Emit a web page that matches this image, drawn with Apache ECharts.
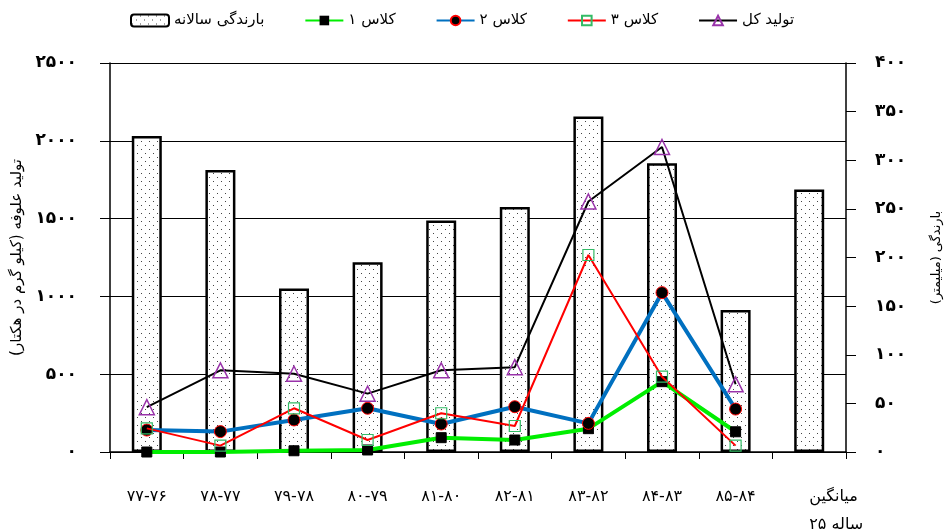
<!DOCTYPE html>
<html><head><meta charset="utf-8">
<script src="https://cdn.jsdelivr.net/npm/echarts@6/dist/echarts.min.js"></script>
<style>html,body{margin:0;padding:0;background:#fff}#c{width:946px;height:532px}</style>
</head><body><div id="c"></div>
<script>
var categories = ['۷۷-۷۶','۷۸-۷۷','۷۹-۷۸','۸۰-۷۹','۸۱-۸۰','۸۲-۸۱','۸۳-۸۲','۸۴-۸۳','۸۵-۸۴','میانگین\n\u200E۲۵ ساله'];
var rainfall = [325, 290, 168, 195, 238, 252, 345, 297, 146, 270];
var class1 = [0, 0, 8, 13, 92, 77, 150, 452, 130, null];
var class2 = [141, 131, 206, 281, 180, 291, 184, 1024, 276, null];
var class3 = [152, 41, 281, 77, 249, 167, 1266, 484, 41, null];
var total = [288, 525, 503, 375, 525, 545, 1610, 1960, 435, null];
var leftTicks = ['۰','۵۰۰','۱۰۰۰','۱۵۰۰','۲۰۰۰','۲۵۰۰'];
var rightTicks = ['۰','۵۰','۱۰۰','۱۵۰','۲۰۰','۲۵۰','۳۰۰','۳۵۰','۴۰۰'];
var names = ['بارندگی سالانه','کلاس ۱','کلاس ۲','کلاس ۳','تولید کل'];

var cv = document.createElement('canvas'); cv.width = 8; cv.height = 8;
var cx = cv.getContext('2d'); cx.fillStyle = '#fff'; cx.fillRect(0,0,8,8);
cx.fillStyle = '#444'; cx.fillRect(1,1,1,1); cx.fillRect(5,5,1,1);

var FONT = 'DejaVu Sans';
var catData = categories.map(function(c, i){
  return i === categories.length - 1 ? {value: c, textStyle: {align: 'left'}} : c;
});
var chart = echarts.init(document.getElementById('c'));
chart.setOption({
  animation: false,
  backgroundColor: '#fff',
  textStyle: {fontFamily: FONT},
  legend: {
    top: 8, left: 125, itemGap: 40, itemWidth: 38, itemHeight: 12,
    textStyle: {fontSize: 15, color: '#000', fontFamily: FONT},
    data: names
  },
  grid: {left: 110, right: 100, top: 63, bottom: 80, outerBoundsMode: 'none', containLabel: false},
  xAxis: {
    type: 'category', data: catData,
    axisLine: {lineStyle: {color: '#000', width: 1.5}},
    axisTick: {show: true, length: 7, lineStyle: {color: '#000'}},
    axisLabel: {color: '#000', fontSize: 16, margin: 31, lineHeight: 28, interval: 0, fontFamily: FONT}
  },
  yAxis: [{
    type: 'value', min: 0, max: 2500, interval: 500, position: 'left',
    name: 'تولید علوفه (کیلو گرم در هکتار)', nameLocation: 'middle', nameGap: 82, nameRotate: 90,
    nameTextStyle: {fontSize: 15, color: '#000', fontFamily: FONT},
    axisLine: {show: true, lineStyle: {color: '#000', width: 1.5}},
    axisTick: {show: true, length: 10, lineStyle: {color: '#000'}},
    splitLine: {show: true, lineStyle: {color: '#000', width: 1.2}},
    axisLabel: {color: '#000', fontSize: 17, fontWeight: 'bold', margin: 33, fontFamily: FONT,
      formatter: function(v){ return leftTicks[Math.round(v/500)]; }}
  }, {
    type: 'value', min: 0, max: 400, interval: 50, position: 'right',
    name: 'بارندگی (میلیمتر)', nameLocation: 'middle', nameGap: 84, nameRotate: 90,
    nameTextStyle: {fontSize: 13, color: '#000', fontFamily: FONT},
    axisLine: {show: true, lineStyle: {color: '#000', width: 1.5}},
    axisTick: {show: true, length: 10, lineStyle: {color: '#000'}},
    splitLine: {show: false},
    axisLabel: {color: '#000', fontSize: 17, fontWeight: 'bold', margin: 29, fontFamily: FONT,
      formatter: function(v){ return rightTicks[Math.round(v/50)]; }}
  }],
  series: [{
    name: names[0], type: 'bar', yAxisIndex: 1, data: rainfall, barWidth: 30,
    itemStyle: {color: {image: cv, repeat: 'repeat'}, borderColor: '#000', borderWidth: 2.5}
  }, {
    name: names[1], type: 'line', data: class1, symbol: 'rect', symbolSize: 10,
    lineStyle: {color: '#00ee00', width: 4}, itemStyle: {color: '#000', borderColor: '#000'}, z: 3
  }, {
    name: names[2], type: 'line', data: class2, symbol: 'circle', symbolSize: 12,
    lineStyle: {color: '#0070c0', width: 4}, itemStyle: {color: '#000', borderColor: '#ff0000', borderWidth: 1}, z: 4
  }, {
    name: names[3], type: 'line', data: class3, symbol: 'rect', symbolSize: 11,
    lineStyle: {color: '#ff0000', width: 2}, itemStyle: {color: 'rgba(255,255,255,0)', borderColor: '#33bb66', borderWidth: 1.2}, z: 5
  }, {
    name: names[4], type: 'line', data: total, symbol: 'triangle', symbolSize: 15,
    lineStyle: {color: '#000', width: 2}, itemStyle: {color: 'rgba(255,255,255,0)', borderColor: '#9933aa', borderWidth: 1.5}, z: 6
  }]
});
</script></body></html>
